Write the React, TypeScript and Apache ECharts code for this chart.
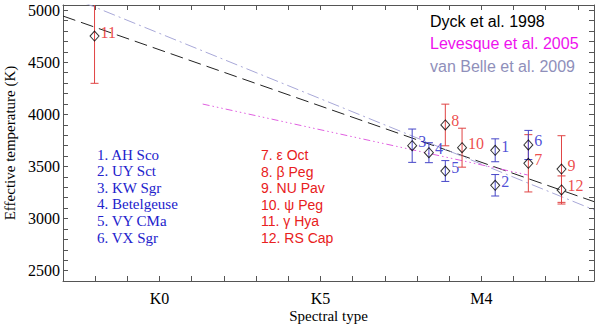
import React, { useEffect, useRef } from "react";
import * as echarts from "echarts";

// ---- data ----
const starNumbers = [1, 2, 3, 4, 5, 6, 7, 8, 9, 10, 11, 12];
const starNames = ["AH Sco", "UY Sct", "KW Sgr", "Betelgeuse", "VY CMa", "VX Sgr", "ε Oct", "β Peg", "NU Pav", "ψ Peg", "γ Hya", "RS Cap"];
const starSpectral = [10.43, 10.43, 7.85, 8.37, 8.88, 11.46, 11.46, 8.88, 12.49, 9.4, -2.02, 12.49];
const starTeff = [3655, 3319, 3699, 3632, 3456, 3706, 3530, 3898, 3475, 3680, 4752, 3274];
const starTeffErr = [110, 103, 160, 96, 100, 140, 275, 200, 320, 187, 454, 135];
const blueStars = [0, 1, 2, 3, 4, 5];
const redStars = [6, 7, 8, 9, 10, 11];

const dyckLine = [[-3, 4944], [13.5, 3162]];
const levesqueLine = [[1.34, 4099], [11.44, 3418]];
const vanBelleLine = [[-3, 5154], [13.5, 3083]];

const legendNames = ["Dyck et al. 1998", "Levesque et al. 2005", "van Belle et al. 2009"];

const xTickValues = [-2, -1, 0, 1, 2, 3, 4, 5, 6, 7, 8, 9, 10, 11, 12, 13];
const xLabelValues = [0, 5, 10];
const xLabelTexts = ["K0", "K5", "M4"];
const yLabelValues = [2500, 3000, 3500, 4000, 4500, 5000];

const X_MIN = -3;
const X_MAX = 13.5;
const Y_MIN = 2400;
const Y_MAX = 5050;

const BLUE = "#2222cc";
const RED = "#e82020";
const BLUE_BAR = "#4646c8";
const RED_BAR = "#e04444";
const AXIS = "#555";
const SERIF = "'Liberation Serif', 'Times New Roman', serif";
const SANS = "'Liberation Sans', Arial, sans-serif";

const yTickValues: number[] = [];
for (let v = 2500; v <= 5000; v += 100) yTickValues.push(v);

function errorSeries(idx: number[], color: string) {
  return {
    type: "custom",
    clip: true,
    z: 2,
    data: idx.map((i) => [starSpectral[i], starTeff[i], starTeffErr[i]]),
    renderItem: (_p: any, api: any) => {
      const x = api.value(0);
      const y = api.value(1);
      const e = api.value(2);
      const topV = Math.min(y + e, Y_MAX);
      const botV = Math.max(y - e, Y_MIN);
      const pt = api.coord([x, topV]);
      const pb = api.coord([x, botV]);
      const st = { stroke: color, lineWidth: 1 };
      const children: any[] = [
        { type: "line", shape: { x1: pt[0], y1: pt[1], x2: pb[0], y2: pb[1] }, style: st },
      ];
      if (y + e <= Y_MAX)
        children.push({ type: "line", shape: { x1: pt[0] - 4, y1: pt[1], x2: pt[0] + 4, y2: pt[1] }, style: st });
      if (y - e >= Y_MIN)
        children.push({ type: "line", shape: { x1: pb[0] - 4, y1: pb[1], x2: pb[0] + 4, y2: pb[1] }, style: st });
      return { type: "group", children };
    },
  };
}

function pointSeries(idx: number[], color: string) {
  return {
    type: "scatter",
    z: 4,
    symbol: "diamond",
    symbolSize: [9, 10],
    itemStyle: { color: "rgba(0,0,0,0)", borderColor: "#000", borderWidth: 1 },
    label: {
      show: true,
      position: "right",
      distance: 1,
      offset: [0, -4],
      formatter: "{b}",
      color,
      fontFamily: SERIF,
      fontSize: 16,
    },
    data: idx.map((i) => ({ name: String(starNumbers[i]), value: [starSpectral[i], starTeff[i]] })),
  };
}

function lineSeries(data: number[][], color: string, dash: number[]) {
  return {
    type: "line",
    z: 1,
    symbol: "none",
    clip: true,
    data,
    lineStyle: { color, width: 1, type: dash },
  };
}

export default function App() {
  const ref = useRef<HTMLDivElement>(null);
  useEffect(() => {
    if (!ref.current) return;
    const chart = echarts.init(ref.current, undefined, { renderer: "svg" });

    const graphics: any[] = [];
    const legendColors = ["#000000", "#ee11ee", "#8f8fba"];
    legendNames.forEach((t, i) => {
      graphics.push({
        type: "text",
        left: 430,
        top: 13 + i * 22.5,
        style: { text: t, fill: legendColors[i], font: `16px ${SANS}` },
      });
    });
    blueStars.forEach((i, k) => {
      graphics.push({
        type: "text",
        left: 97,
        top: 147 + k * 16.6,
        style: { text: `${starNumbers[i]}. ${starNames[i]}`, fill: BLUE, font: `15px ${SERIF}` },
      });
    });
    redStars.forEach((i, k) => {
      graphics.push({
        type: "text",
        left: 261,
        top: 148 + k * 16.6,
        style: { text: `${starNumbers[i]}. ${starNames[i]}`, fill: RED, font: `14px ${SANS}` },
      });
    });

    const tickCommon = { show: true, inside: true, length: 5, lineStyle: { color: AXIS } };
    const lineCommon = { show: true, onZero: false, lineStyle: { color: AXIS } };
    chart.setOption({
      animation: false,
      backgroundColor: "#fff",
      grid: { left: 63, right: 6, top: 5, bottom: 43, containLabel: false, outerBoundsMode: "none" },
      xAxis: [
        {
          type: "value",
          position: "bottom",
          min: X_MIN,
          max: X_MAX,
          axisLine: lineCommon,
          axisTick: { ...tickCommon, customValues: xTickValues },
          splitLine: { show: false },
          axisLabel: {
            customValues: xLabelValues,
            formatter: (v: number) => xLabelTexts[xLabelValues.indexOf(v)] ?? "",
            fontFamily: SERIF,
            fontSize: 16,
            color: "#000",
            margin: 9,
          },
          name: "Spectral type",
          nameLocation: "middle",
          nameGap: 27,
          nameMoveOverlap: false,
          nameTextStyle: { fontFamily: SERIF, fontSize: 15, color: "#000" },
        },
        {
          type: "value",
          position: "top",
          min: X_MIN,
          max: X_MAX,
          axisLine: lineCommon,
          axisTick: { ...tickCommon, customValues: xTickValues },
          splitLine: { show: false },
          axisLabel: { show: false },
        },
      ],
      yAxis: [
        {
          type: "value",
          position: "left",
          min: Y_MIN,
          max: Y_MAX,
          axisLine: lineCommon,
          axisTick: { ...tickCommon, customValues: yTickValues },
          splitLine: { show: false },
          axisLabel: {
            customValues: yLabelValues,
            formatter: (v: number) => String(v),
            fontFamily: SERIF,
            fontSize: 16,
            color: "#000",
            margin: 3,
          },
          name: "Effective temperature (K)",
          nameLocation: "middle",
          nameGap: 46,
          nameMoveOverlap: false,
          nameTextStyle: { fontFamily: SERIF, fontSize: 15, color: "#000" },
        },
        {
          type: "value",
          position: "right",
          min: Y_MIN,
          max: Y_MAX,
          axisLine: lineCommon,
          axisTick: { ...tickCommon, customValues: yTickValues },
          splitLine: { show: false },
          axisLabel: { show: false },
        },
      ],
      series: [
        lineSeries(dyckLine, "#222", [13, 6]),
        lineSeries(vanBelleLine, "#a8a8d8", [12, 4, 2, 4]),
        lineSeries(levesqueLine, "#e060e0", [7, 3, 1.5, 3, 1.5, 3, 1.5, 3]),
        errorSeries(redStars, RED_BAR),
        errorSeries(blueStars, BLUE_BAR),
        pointSeries(blueStars, BLUE),
        pointSeries(redStars, RED),
      ],
      graphic: graphics,
    });
    return () => chart.dispose();
  }, []);
  return <div ref={ref} style={{ position: "fixed", left: 0, top: 0, width: 600, height: 324 }} />;
}
